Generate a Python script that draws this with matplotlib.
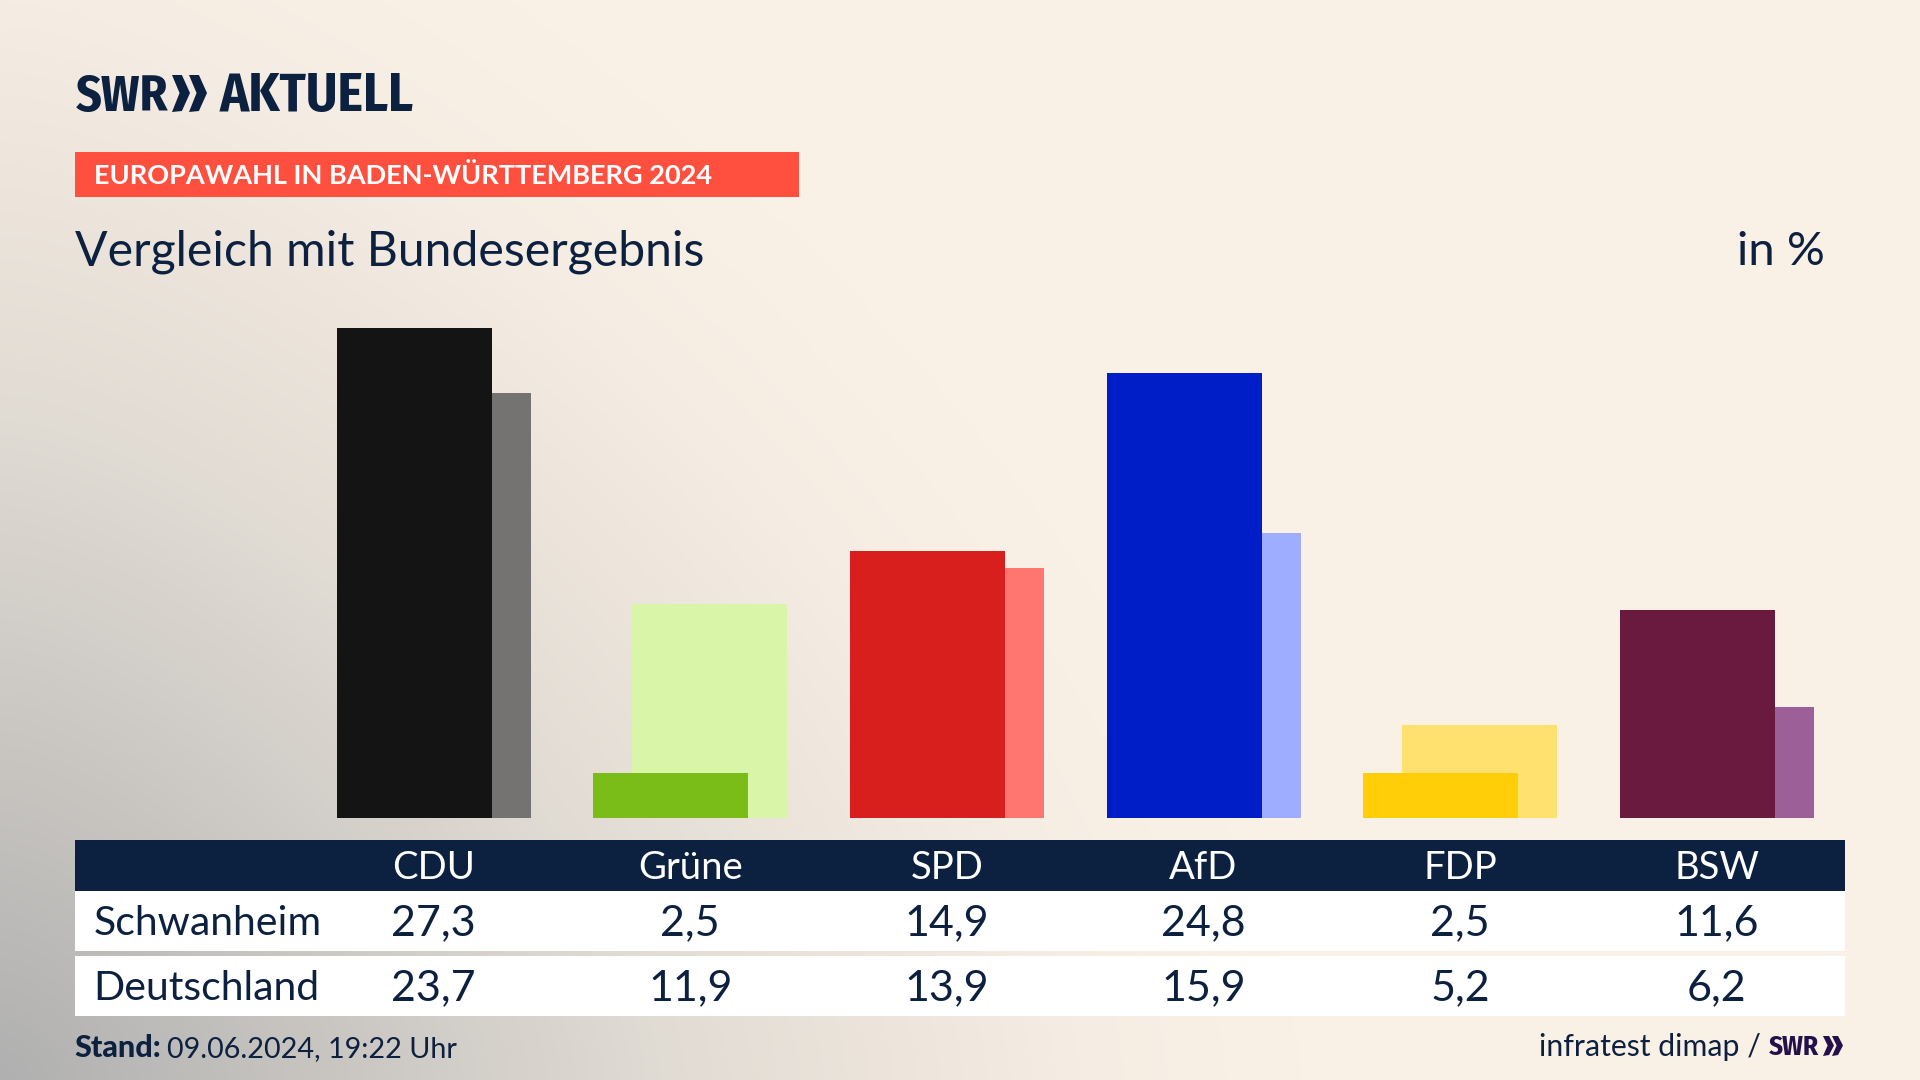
import numpy as np
import matplotlib
matplotlib.use("Agg")
import matplotlib.pyplot as plt
from matplotlib.patches import Polygon, Rectangle
from matplotlib.transforms import blended_transform_factory

parties = ["CDU", "Grüne", "SPD", "AfD", "FDP", "BSW"]
schwanheim = [27.3, 2.5, 14.9, 24.8, 2.5, 11.6]
deutschland = [23.7, 11.9, 13.9, 15.9, 5.2, 6.2]
front_colors = ["#141414", "#7ABD19", "#D81F1E", "#001EC8", "#FFCE09", "#6A193F"]
back_colors = ["#747372", "#D8F5A8", "#FF7570", "#9EADFF", "#FFE16F", "#9C5F98"]
row_names = ["Schwanheim", "Deutschland"]

NAVY = "#0C2040"
FONT = "Lato"
LOGO = ["Fira Sans Condensed", "Open Sans"]
W, H = 1920, 1080
fig = plt.figure(figsize=(W / 100, H / 100), dpi=100)

# pixel overlay
px = fig.add_axes([0, 0, 1, 1], zorder=0)
px.set_xlim(0, W)
px.set_ylim(H, 0)
px.axis("off")

# background glow from the lower left corner
yy, xx = np.mgrid[0:H:270j, 0:W:480j]
d = (xx ** 1.5 + (H - yy) ** 1.5) ** (1 / 1.5)
stops = [0, 320, 660, 870, 1080, 1300]
rgb = np.dstack([
    np.interp(d, stops, [176, 200, 224, 236, 245, 250]),
    np.interp(d, stops, [176, 197, 219, 228, 237, 241]),
    np.interp(d, stops, [176, 193, 211, 219, 227, 230]),
]) / 255
px.imshow(rgb, extent=(0, W, H, 0), aspect="auto", interpolation="bilinear", zorder=0)
px.set_xlim(0, W)
px.set_ylim(H, 0)


def chevrons(x0, y0, y1, w, gap, color):
    ym = (y0 + y1) / 2
    for k in range(2):
        xl = x0 + k * gap
        px.add_patch(Polygon([(xl, y0), (xl + w * 0.55, y0 + 0), (xl + w, ym), (xl + w * 0.55, y1),
                              (xl, y1 + 1), (xl + w * 0.42, ym)], closed=True, fc=color, ec="none", zorder=3))


# logo
px.text(76, 111, "SWR", family=LOGO, weight="bold", fontsize=36, color=NAVY, va="baseline", ha="left", zorder=3)
chevrons(172, 75, 111, 18, 17, NAVY)
px.text(220, 111, "AKTUELL", family=LOGO, weight="bold", fontsize=38.8, color=NAVY, va="baseline", ha="left", zorder=3)

# band and titles
px.add_patch(Rectangle((75, 152), 724, 45, fc="#FF503F", ec="none", zorder=2))
px.text(94, 184, "EUROPAWAHL IN BADEN-WÜRTTEMBERG 2024", family=FONT, weight="bold", fontsize=19.5,
        color="white", va="baseline", zorder=3)
px.text(75, 265, "Vergleich mit Bundesergebnis", family=FONT, fontsize=34.7, color=NAVY, va="baseline", zorder=3)
px.text(1825, 265, "in %", family=FONT, fontsize=34, color=NAVY, va="baseline", ha="right", zorder=3)

# bars
LEFT, RIGHT, BASE, SCALE = 75, 1845, 818, 17.95
STEP = 256.6
C0 = 433.7
ymax = 30
ax = fig.add_axes([LEFT / W, 1 - BASE / H, (RIGHT - LEFT) / W, ymax * SCALE / H], zorder=1)
ax.patch.set_alpha(0)
ax.set_xlim((LEFT - C0) / STEP, (RIGHT - C0) / STEP)
ax.set_ylim(0, ymax)
ax.axis("off")
x = np.arange(len(parties))
off = 19.5 / STEP
bw = 155 / STEP
ax.bar(x + off, deutschland, bw, color=back_colors, zorder=1)
ax.bar(x - off, schwanheim, bw, color=front_colors, zorder=2)

# table
px.add_patch(Rectangle((75, 840), 1770, 51, fc=NAVY, ec="none", zorder=2))
px.add_patch(Rectangle((75, 891), 1770, 60, fc="white", ec="none", zorder=2))
px.add_patch(Rectangle((75, 956), 1770, 60, fc="white", ec="none", zorder=2))

tr = blended_transform_factory(ax.transData, px.transData)
for i, p in enumerate(parties):
    fig.text(i, 879, p, transform=tr, family=FONT, fontsize=27.5, color="white", ha="center", va="baseline", zorder=5)
    fig.text(i, 935, f"{schwanheim[i]:.1f}".replace(".", ","), transform=tr, family=FONT, fontsize=31,
             color=NAVY, ha="center", va="baseline", zorder=5)
    fig.text(i, 1000, f"{deutschland[i]:.1f}".replace(".", ","), transform=tr, family=FONT, fontsize=31,
             color=NAVY, ha="center", va="baseline", zorder=5)
px.text(94, 935, row_names[0], family=FONT, fontsize=29.5, color=NAVY, va="baseline", zorder=5)
px.text(93, 1000, row_names[1], family=FONT, fontsize=29.5, color=NAVY, va="baseline", zorder=5)

# footer
px.text(74, 1057, "Stand:", family=FONT, weight="black", fontsize=22, color=NAVY, va="baseline", zorder=3)
px.text(167, 1057, "09.06.2024, 19:22 Uhr", family=FONT, fontsize=20.7, color=NAVY, va="baseline", zorder=3)
px.text(1761, 1056, "infratest dimap /", family=FONT, fontsize=21.8, color=NAVY, va="baseline", ha="right", zorder=3)
px.text(1769, 1055, "SWR", family=LOGO, weight="bold", fontsize=19.5, color="#26104A", va="baseline", zorder=3)
chevrons(1823, 1036, 1055, 11, 9, "#26104A")

fig.savefig("out.png", dpi=100)
